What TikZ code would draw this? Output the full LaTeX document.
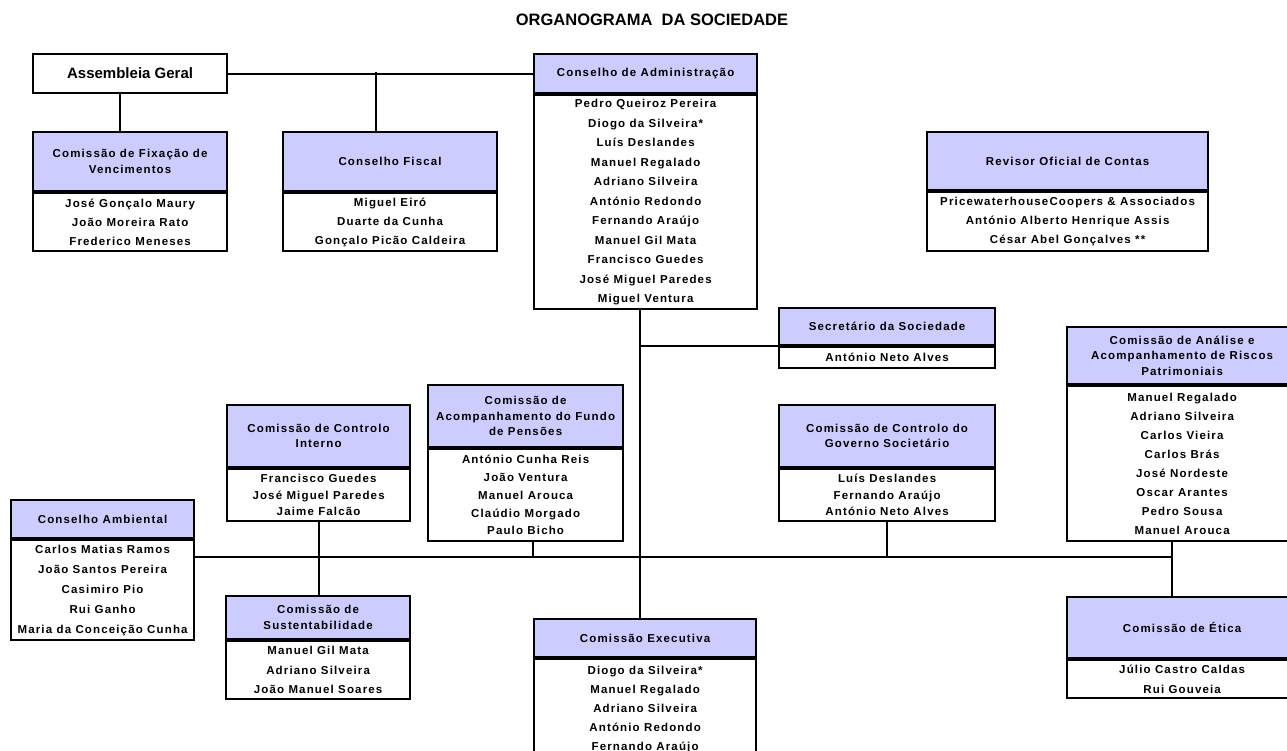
\documentclass[tikz,border=0pt]{standalone}
\usepackage{fontspec}
\setmainfont{Liberation Sans}[LetterSpace=10]
\newfontfamily\titlefont{Liberation Sans}

\begin{document}
\begin{tikzpicture}[x=1pt, y=-1pt,
    hd/.style={draw, line width=2.2pt, fill=myhead, align=center, inner sep=0pt,
      anchor=north west, font=\bfseries\fontsize{11.5}{15.5}\selectfont},
    bd/.style={draw, line width=2.2pt, fill=white, align=center, inner sep=0pt,
      anchor=north, font=\bfseries\fontsize{11.5}{#1}\selectfont},
    bd/.default=19.5,
    lnk/.style={line width=1.9pt}]
    \definecolor{myhead}{RGB}{204,204,255}
    \useasboundingbox (0,0) rectangle (1287,751);

    \node[font=\titlefont\bfseries\fontsize{16.5}{18}\selectfont] (title) at (652,20) {ORGANOGRAMA\ \ DA SOCIEDADE};

    % top row
    \node[hd, fill=white, minimum width=194pt, minimum height=39pt, font=\titlefont\bfseries\fontsize{15}{17}\selectfont] (ag) at (32,53) {Assembleia Geral};
    \node[hd, minimum width=223pt, minimum height=39pt] (adm) at (533,53) {Conselho de Administração};
    \node[bd, minimum width=223pt, minimum height=214pt] (adm-b) at (adm.south) {Pedro Queiroz Pereira\\Diogo da Silveira*\\Luís Deslandes\\Manuel Regalado\\Adriano Silveira\\António Redondo\\Fernando Araújo\\Manuel Gil Mata\\Francisco Guedes\\José Miguel Paredes\\Miguel Ventura};

    \node[hd, minimum width=194pt, minimum height=59pt] (fix) at (32,131) {Comissão de Fixação de\\Vencimentos};
    \node[bd=19, minimum width=194pt, minimum height=58pt] (fix-b) at (fix.south) {José Gonçalo Maury\\João Moreira Rato\\Frederico Meneses};
    \node[hd, minimum width=214pt, minimum height=59pt] (fis) at (282,131) {Conselho Fiscal};
    \node[bd=19, minimum width=214pt, minimum height=58pt] (fis-b) at (fis.south) {Miguel Eiró\\Duarte da Cunha\\Gonçalo Picão Caldeira};
    \node[hd, minimum width=281pt, minimum height=58pt] (rev) at (926,131) {Revisor Oficial de Contas};
    \node[bd=19, minimum width=281pt, minimum height=59pt] (rev-b) at (rev.south) {PricewaterhouseCoopers \& Associados\\António Alberto Henrique Assis\\César Abel Gonçalves **};

    % middle row
    \node[hd, minimum width=216pt, minimum height=37pt] (sec) at (778,307) {Secretário da Sociedade};
    \node[bd, minimum width=216pt, minimum height=21pt] (sec-b) at (sec.south) {António Neto Alves};
    \node[hd, minimum width=183pt, minimum height=62pt] (cin) at (226,404) {Comissão de Controlo\\Interno};
    \node[bd=16.5, minimum width=183pt, minimum height=52pt] (cin-b) at (cin.south) {Francisco Guedes\\José Miguel Paredes\\Jaime Falcão};
    \node[hd, minimum width=195pt, minimum height=62pt] (fun) at (427,384) {Comissão de\\Acompanhamento do Fundo\\de Pensões};
    \node[bd=17.75, minimum width=195pt, minimum height=92pt] (fun-b) at (fun.south) {António Cunha Reis\\João Ventura\\Manuel Arouca\\Claúdio Morgado\\Paulo Bicho};
    \node[hd, minimum width=216pt, minimum height=62pt] (gov) at (778,404) {Comissão de Controlo do\\Governo Societário};
    \node[bd=16.5, minimum width=216pt, minimum height=52pt] (gov-b) at (gov.south) {Luís Deslandes\\Fernando Araújo\\António Neto Alves};
    \node[hd, minimum width=230pt, minimum height=57pt] (ana) at (1066,326) {Comissão de Análise e\\Acompanhamento de Riscos\\Patrimoniais};
    \node[bd=19.1, minimum width=230pt, minimum height=155pt] (ana-b) at (ana.south) {Manuel Regalado\\Adriano Silveira\\Carlos Vieira\\Carlos Brás\\José Nordeste\\Oscar Arantes\\Pedro Sousa\\Manuel Arouca};
    \node[hd, minimum width=183pt, minimum height=38pt] (amb) at (10,499) {Conselho Ambiental};
    \node[bd=20, minimum width=183pt, minimum height=100pt] (amb-b) at (amb.south) {Carlos Matias Ramos\\João Santos Pereira\\Casimiro Pio\\Rui Ganho\\Maria da Conceição Cunha};

    % bottom row
    \node[hd, minimum width=184pt, minimum height=43pt] (sus) at (225,595) {Comissão de\\Sustentabilidade};
    \node[bd, minimum width=184pt, minimum height=58pt] (sus-b) at (sus.south) {Manuel Gil Mata\\Adriano Silveira\\João Manuel Soares};
    \node[hd, minimum width=222pt, minimum height=38pt] (exe) at (533,618) {Comissão Executiva};
    \node[bd=19, minimum width=222pt, minimum height=100pt] (exe-b) at (exe.south) {Diogo da Silveira*\\Manuel Regalado\\Adriano Silveira\\António Redondo\\Fernando Araújo};
    \node[hd, minimum width=230pt, minimum height=61pt] (eti) at (1066,596) {Comissão de Ética};
    \node[bd=20, minimum width=230pt, minimum height=38pt] (eti-b) at (eti.south) {Júlio Castro Caldas\\Rui Gouveia};

    % connectors
    \coordinate (agj) at (376,72.5);
    \coordinate (fixj) at (120,92);
    \coordinate (spine) at (640,0);
    \coordinate (busr) at (1172,557);
    \coordinate (funj) at (533,557);
    \draw[lnk] (ag) -- (adm);
    \draw[lnk] (agj) -- (agj |- fis.north);
    \draw[lnk] (fixj) -- (fixj |- fix.north);
    \draw[lnk] (adm-b.south -| spine) -- (exe.north -| spine);
    \draw[lnk] (sec.south west -| spine) -- (sec.south west);
    \draw[lnk] (busr -| amb-b.east) -- (busr);
    \draw[lnk] (funj |- fun-b.south) -- (funj);
    \draw[lnk] (cin-b.south) -- (cin-b.south |- sus.north);
    \draw[lnk] (gov-b.south) -- (gov-b.south |- busr);
    \draw[lnk] (busr |- ana-b.south) -- (busr |- eti.north);
\end{tikzpicture}
\end{document}
